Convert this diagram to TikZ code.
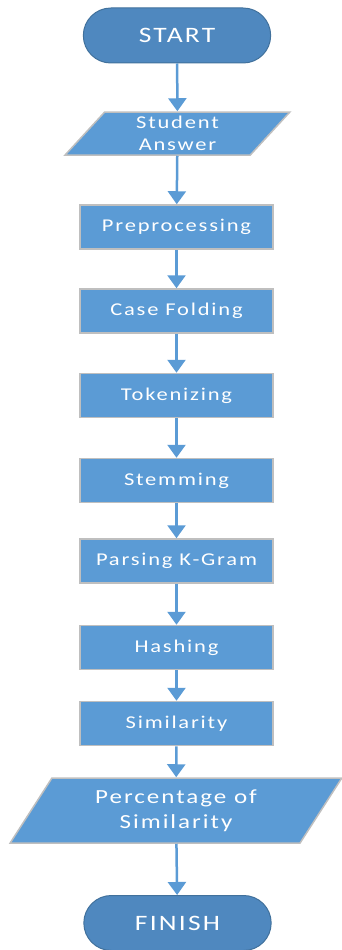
\documentclass[tikz,border=0pt]{standalone}
\usepackage{fontspec}
\setmainfont{Carlito}[FakeStretch=1.25,LetterSpace=10]
\usetikzlibrary{arrows.meta,shapes.geometric,shapes.misc}
\definecolor{boxblue}{HTML}{5B9BD5}
\definecolor{termblue}{HTML}{4F88BF}
\definecolor{termedge}{HTML}{41719C}
\definecolor{boxedge}{HTML}{BFBFBF}
\begin{document}
\begin{tikzpicture}[x=1pt,y=-1pt,
  term/.style={rounded rectangle,fill=termblue,draw=termedge,line width=1pt,
    minimum width=194pt,minimum height=55pt,text=white,font=\fontsize{22}{26}\selectfont},
  proc/.style={rectangle,fill=boxblue,draw=boxedge,line width=1.5pt,
    minimum width=193pt,minimum height=44pt,text=white,font=\fontsize{18}{22}\selectfont},
  io/.style={trapezium,trapezium stretches=true,trapezium left angle=57,trapezium right angle=123,
    fill=boxblue,draw=boxedge,line width=1.5pt,text=white,align=center,inner sep=0pt},
  flow/.style={draw=boxblue,line width=2.5pt,-{Triangle[width=18pt,length=13pt]}}]
\useasboundingbox (0,0) rectangle (341,950);
\node[term] (start) at (177,35.5) {START};
\node[io,minimum width=225pt,minimum height=43pt,font=\fontsize{18}{22}\selectfont] (answer) at (177.5,133.5) {Student\\Answer};
\node[proc] (prep) at (176.5,227) {Preprocessing};
\node[proc] (fold) at (176.5,311) {Case Folding};
\node[proc] (token) at (176.5,395.5) {Tokenizing};
\node[proc] (stem) at (176.5,480.5) {Stemming};
\node[proc] (kgram) at (176.5,561) {Parsing K-Gram};
\node[proc] (hash) at (176.5,647.5) {Hashing};
\node[proc] (simil) at (176.5,723.5) {Similarity};
\node[io,minimum width=332pt,minimum height=65pt,font=\fontsize{20}{25}\selectfont] (percent) at (176,810.5) {Percentage of\\Similarity};
\node[term] (finish) at (177.5,923) {FINISH};

\draw[flow] (start) -- (answer);
\draw[flow] (answer) -- (prep);
\draw[flow] (prep) -- (fold);
\draw[flow] (fold) -- (token);
\draw[flow] (token) -- (stem);
\draw[flow] (stem) -- (kgram);
\draw[flow] (kgram) -- (hash);
\draw[flow] (hash) -- (simil);
\draw[flow] (simil) -- (percent);
\draw[flow] (percent) -- (finish);
\end{tikzpicture}
\end{document}
